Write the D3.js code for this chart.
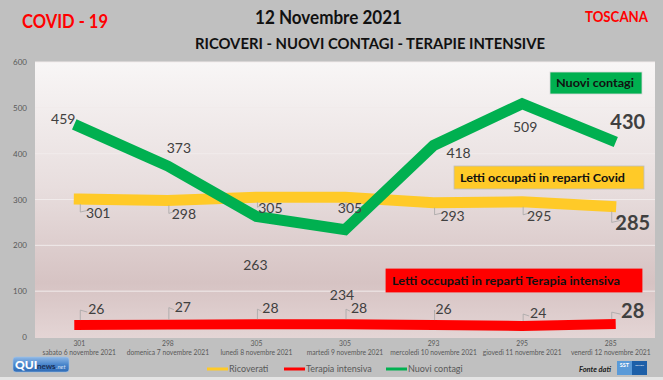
<!DOCTYPE html>
<html><head><meta charset="utf-8">
<script src="https://cdn.jsdelivr.net/npm/d3@7"></script>
<style>html,body{margin:0;padding:0;background:#c0c0c0;}svg{display:block;}</style>
</head><body>
<svg id="c" width="663" height="380"></svg>
<script>
const days = ["sabato 6 novembre 2021","domenica 7 novembre 2021","lunedì 8 novembre 2021","martedì 9 novembre 2021","mercoledì 10 novembre 2021","giovedì 11 novembre 2021","venerdì 12 novembre 2021"];
const ricoverati = [301,298,305,305,293,295,285];
const terapia = [26,27,28,28,26,24,28];
const contagi = [459,373,263,234,418,509,430];
const yTicks = [0,100,200,300,400,500,600];
const seriesNames = ["Ricoverati","Terapia intensiva","Nuovi contagi"];
const boxTexts = ["Nuovi contagi","Letti occupati in reparti Covid","Letti occupati in reparti Terapia intensiva"];

// label offsets (styling only)
const offContagi = [[-16,-8],[11,-18],[-1,49],[-3,65],[25,8],[3,23],[17,-18]];
const offRic = [[19,14],[16,14],[14,11],[5,11],[19,13],[17,14],[22,17]];
const offTer = [[17,-16],[15,-18],[14,-16],[14,-16],[10,-16],[16,-13],[22,-13]];

const svg = d3.select("#c");
const W=663,H=380;
const L=35,R=655,T=62,B=337;
const FONT="Lato, 'Open Sans', sans-serif";

svg.append("rect").attr("width",W).attr("height",H).attr("fill","#c0c0c0");
svg.append("rect").attr("x",0).attr("y",377).attr("width",W).attr("height",3).attr("fill","#e4e4e4");

const defs=svg.append("defs");
const g1=defs.append("linearGradient").attr("id","pg").attr("x1",0).attr("y1",0).attr("x2",0).attr("y2",1);
[[0,"#f8f6f6"],[0.45,"#e8dede"],[0.8,"#d6c3c3"],[1,"#e4d5d5"]].forEach(s=>g1.append("stop").attr("offset",s[0]).attr("stop-color",s[1]));
const g2=defs.append("linearGradient").attr("id","qg").attr("x1",0).attr("y1",0).attr("x2",0).attr("y2",1);
[[0,"#8fb8e6"],[0.5,"#4a86cc"],[1,"#2f6bb5"]].forEach(s=>g2.append("stop").attr("offset",s[0]).attr("stop-color",s[1]));

svg.append("rect").attr("x",L).attr("y",T).attr("width",R-L).attr("height",B-T+1).attr("fill","url(#pg)");

const x=d3.scaleBand().domain(days).range([L,R]);
const y=d3.scaleLinear().domain([0,600]).range([B,T]);
const cx=d=>x(d)+x.bandwidth()/2;

// gridlines
svg.append("g").selectAll("line").data(yTicks.filter(t=>t>0)).join("line")
  .attr("x1",L).attr("x2",R).attr("y1",d=>y(d)).attr("y2",d=>y(d))
  .attr("stroke","#f1ebeb").attr("stroke-width",1);

// y axis
const ya=svg.append("g").attr("transform",`translate(${L},0)`).call(d3.axisLeft(y).tickValues(yTicks).tickSize(0).tickPadding(8));
ya.select(".domain").remove();
ya.selectAll("text").attr("font-family",FONT).attr("font-size",8).attr("fill","#595959");

// x axis labels
const xa=svg.append("g").attr("transform",`translate(0,${B})`).call(d3.axisBottom(x).tickSize(0).tickFormat(()=>"" ));
xa.select(".domain").remove();
xa.selectAll(".tick text").remove();
xa.selectAll(".tick").each(function(d,i){
  const t=d3.select(this).append("text").attr("text-anchor","middle").attr("font-family",FONT).attr("fill","#595959");
  t.append("tspan").attr("x",0).attr("y",9).attr("font-size",6.8).text(ricoverati[i]);
  t.append("tspan").attr("x",0).attr("y",18).attr("font-size",6.7).text(d);
});

const line=d3.line().x((d,i)=>cx(days[i])).y(d=>y(d));
const series=[
  {vals:ricoverati,color:"#ffca28",w:11,off:offRic,lead:true},
  {vals:terapia,color:"#ff0000",w:10,off:offTer,lead:true},
  {vals:contagi,color:"#00b050",w:11,off:offContagi,lead:false}
];
series.forEach(s=>{
  svg.append("path").datum(s.vals).attr("d",line).attr("fill","none")
    .attr("stroke",s.color).attr("stroke-width",s.w).attr("stroke-linejoin","miter").attr("stroke-linecap","square");
});

// labels
series.forEach(s=>{
  s.vals.forEach((v,i)=>{
    const px=cx(days[i]),py=y(v);
    const last=i===s.vals.length-1;
    const lx=px+s.off[i][0],ly=py+s.off[i][1];
    if(s.lead){
      const dir=s.off[i][1]>0?1:-1;
      svg.append("path").attr("d",`M${px+1},${py+dir*5} L${px+1},${ly-dir*1} L${lx-(last?12:9)},${ly-dir*3}`)
        .attr("fill","none").attr("stroke","#a6a6a6").attr("stroke-width",0.8);
    }
    svg.append("text").attr("x",lx).attr("y",ly).attr("dy","0.35em").attr("text-anchor","middle")
      .attr("font-family",FONT).attr("font-size",last?20:14).attr("font-weight",last?"bold":"normal")
      .attr("fill","#404040").text(v);
  });
});

// annotation boxes
const boxes=[
  {x:550,y:72,w:92,h:22,fill:"#00b050",stroke:"#d9d9d9",tw:78,fs:11.5},
  {x:454,y:166,w:190,h:23,fill:"#ffca28",stroke:"#bfbfbf",tw:165,fs:12},
  {x:386,y:269,w:256,h:23,fill:"#ff0000",stroke:"#ff0000",tw:228,fs:12}
];
boxes.forEach((b,i)=>{
  svg.append("rect").attr("x",b.x).attr("y",b.y).attr("width",b.w).attr("height",b.h)
    .attr("fill",b.fill).attr("stroke",b.stroke).attr("stroke-width",0.8);
  svg.append("text").attr("x",b.x+6).attr("y",b.y+b.h/2).attr("dy","0.36em")
    .attr("font-family",FONT).attr("font-weight","bold").attr("font-size",b.fs).attr("fill","#111")
    .attr("textLength",b.tw).attr("lengthAdjust","spacingAndGlyphs").text(boxTexts[i]);
});

// titles
function ttl(txt,x0,x1,yy,fs,col){
  svg.append("text").attr("x",x0).attr("y",yy).attr("font-family",FONT).attr("font-weight","bold")
    .attr("font-size",fs).attr("fill",col).attr("textLength",x1-x0).attr("lengthAdjust","spacingAndGlyphs").text(txt);
}
ttl("COVID - 19",22,108,28,19,"#ff0000");
ttl("TOSCANA",585,648,22,16,"#ff0000");
ttl("12 Novembre 2021",255,402,24,19,"#111");
ttl("RICOVERI - NUOVI CONTAGI - TERAPIE INTENSIVE",195,545,49,15,"#111");

// legend
const legX=[207,284,386];
const legC=["#ffca28","#ff0000","#00b050"];
seriesNames.forEach((n,i)=>{
  svg.append("line").attr("x1",legX[i]).attr("x2",legX[i]+21).attr("y1",369).attr("y2",369).attr("stroke",legC[i]).attr("stroke-width",3);
  svg.append("text").attr("x",legX[i]+22).attr("y",369).attr("dy","0.35em").attr("font-family",FONT)
    .attr("font-size",9).attr("fill","#595959").text(n);
});

// Fonte dati
svg.append("text").attr("x",579).attr("y",369).attr("dy","0.35em").attr("font-family",FONT)
  .attr("font-size",7.5).attr("font-style","italic").attr("font-weight","bold").attr("fill","#222").text("Fonte dati");
// SST logo
svg.append("rect").attr("x",617).attr("y",361).attr("width",15).attr("height",14).attr("fill","#5a9ad8");
svg.append("rect").attr("x",632).attr("y",361).attr("width",15).attr("height",14).attr("fill","#1d5fa8");
svg.append("text").attr("x",624.5).attr("y",367).attr("text-anchor","middle").attr("font-family",FONT).attr("font-size",5.5).attr("font-weight","bold").attr("fill","#fff").text("SST");
svg.append("text").attr("x",639.5).attr("y",366).attr("text-anchor","middle").attr("font-family",FONT).attr("font-size",2.5).attr("fill","#fff").text("Servizio");

// QUI news logo
svg.append("rect").attr("x",13).attr("y",357).attr("width",56).attr("height",15).attr("rx",3).attr("fill","url(#qg)").attr("stroke","#9cbfe8").attr("stroke-width",0.6);
svg.append("text").attr("x",15).attr("y",369).attr("font-family",FONT).attr("font-weight","900").attr("font-size",12).attr("fill","#fff").text("QUI");
svg.append("text").attr("x",37).attr("y",369).attr("font-family",FONT).attr("font-weight","bold").attr("font-size",8).attr("fill","#1a2f55").text("news");
svg.append("text").attr("x",56).attr("y",369).attr("font-family",FONT).attr("font-style","italic").attr("font-size",6).attr("fill","#cfe0f5").text(".net");
</script>
</body></html>
